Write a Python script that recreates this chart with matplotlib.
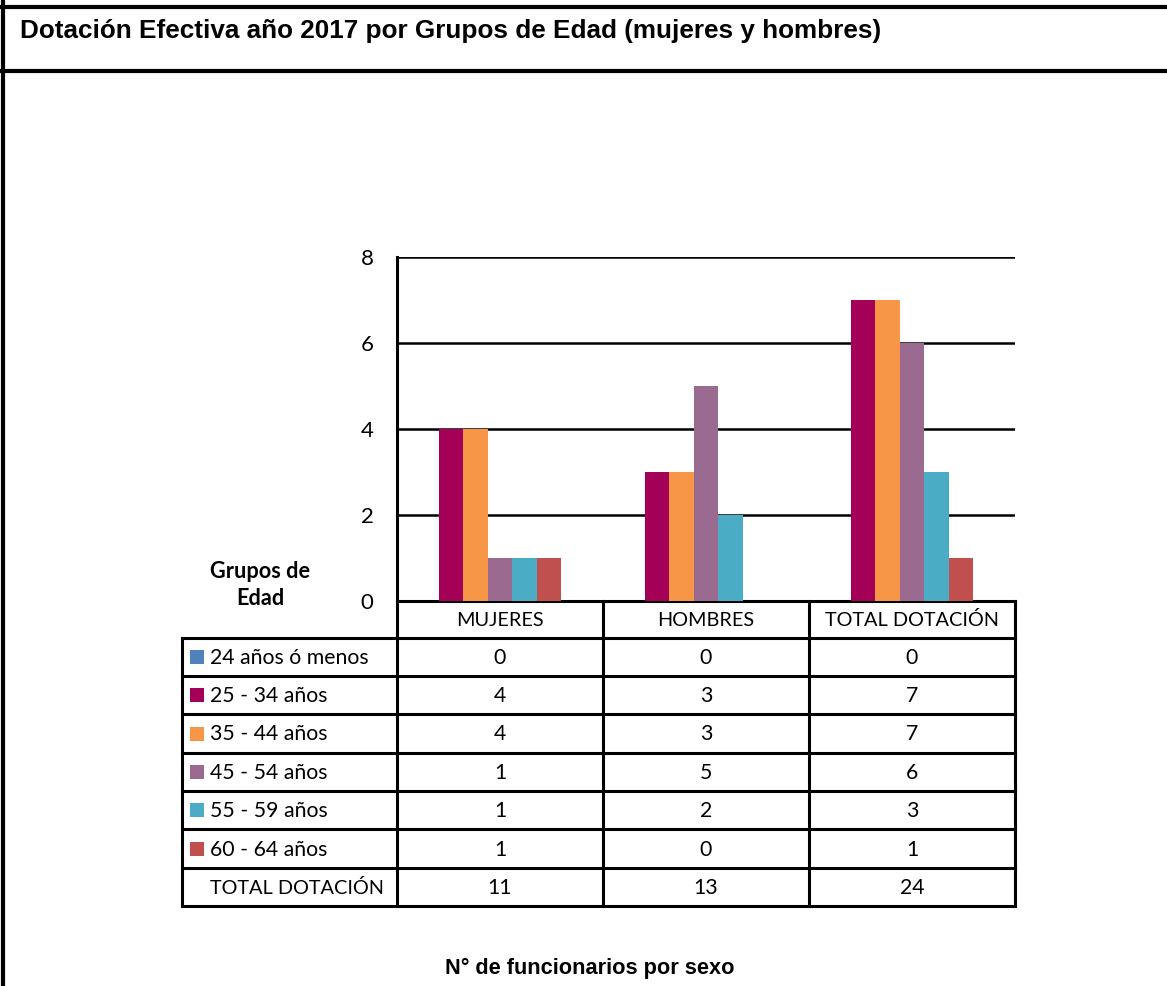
import matplotlib
matplotlib.use("Agg")
import matplotlib.pyplot as plt
from matplotlib.lines import Line2D
from matplotlib.patches import Rectangle
import numpy as np

W, H = 1167, 986
title = "Dotación Efectiva año 2017 por Grupos de Edad (mujeres y hombres)"
xlabel = "N° de funcionarios por sexo"
corner = "Grupos de\nEdad"
categories = ["MUJERES", "HOMBRES", "TOTAL DOTACIÓN"]
series = ["24 años ó menos", "25 - 34 años", "35 - 44 años", "45 - 54 años",
          "55 - 59 años", "60 - 64 años"]
v_24 = [0, 0, 0]
v_25_34 = [4, 3, 7]
v_35_44 = [4, 3, 7]
v_45_54 = [1, 5, 6]
v_55_59 = [1, 2, 3]
v_60_64 = [1, 0, 1]
totals_label = "TOTAL DOTACIÓN"
totals = [11, 13, 24]
colors = ["#4F81BD", "#A50057", "#F79646", "#9A6A90", "#4BACC6", "#C0504D"]
yticks = [0, 2, 4, 6, 8]

values = [v_24, v_25_34, v_35_44, v_45_54, v_55_59, v_60_64]

BODY = ["Lato", "DejaVu Sans"]
NARROW = ["Liberation Sans", "DejaVu Sans"]

fig = plt.figure(figsize=(W / 100, H / 100), dpi=100)

# overlay axes in pixel coords
ov = fig.add_axes([0, 0, 1, 1])
ov.set_xlim(0, W)
ov.set_ylim(H, 0)
ov.axis("off")

def px(x0, y0, x1, y1):
    return [x0 / W, 1 - y1 / H, (x1 - x0) / W, (y1 - y0) / H]

# plot area
ax_l, ax_r, ax_t, ax_b = 397, 1015, 257, 601
ax = fig.add_axes(px(ax_l, ax_t, ax_r, ax_b))
ax.set_xlim(0, len(categories))
ax.set_ylim(0, 8)
ax.set_yticks(yticks)
ax.set_yticklabels([str(t) for t in yticks], fontfamily=BODY, fontsize=16)
ax.tick_params(axis="y", length=0, pad=17)
ax.set_xticks([])
for s in ["top", "right", "bottom"]:
    ax.spines[s].set_visible(False)
ax.spines["left"].set_linewidth(2.2)
ax.spines["left"].set_zorder(5)
ax.patch.set_alpha(0)
for t in yticks[1:]:
    ax.axhline(t, color="black", lw=1.8, zorder=1)

w = 24.55 / 206.0
nslots = 7
x = np.arange(len(categories)) + 0.5
for k, (vals, c) in enumerate(zip(values, colors)):
    off = (k - (nslots - 1) / 2) * w
    ax.bar(x + off, vals, width=w, color=c, align="center", zorder=3, linewidth=0)

# borders of the frame
LW = 3.0
ov.add_line(Line2D([0, W], [7, 7], color="black", lw=LW))
ov.add_line(Line2D([0, W], [71, 71], color="black", lw=LW))
ov.add_line(Line2D([2.5, 2.5], [0, H], color="black", lw=LW))

ov.text(20, 31, title, fontfamily=NARROW, fontweight="bold", fontsize=18.8,
        ha="left", va="center")
ov.text(590, 968, xlabel, fontfamily=NARROW, fontweight="bold", fontsize=15.7,
        ha="center", va="center")
ov.text(260, 585, corner, fontfamily=BODY, fontweight="bold", fontsize=15.6,
        ha="center", va="center", linespacing=1.38)

# data table
tl = 182
cols = [397, 603, 809, 1015]
hdr_top = 601
rows_y = [638, 676, 714, 753, 791, 829, 868, 906]
TLW = 2.2
ov.add_line(Line2D([cols[0], cols[-1]], [hdr_top, hdr_top], color="black", lw=TLW))
for cx in cols:
    ov.add_line(Line2D([cx, cx], [hdr_top, rows_y[-1]], color="black", lw=TLW))
for ry in rows_y:
    ov.add_line(Line2D([tl, cols[-1]], [ry, ry], color="black", lw=TLW))
ov.add_line(Line2D([tl, tl], [rows_y[0], rows_y[-1]], color="black", lw=TLW))

FS = 15.3
FS_CAPS = 14.3
for j, cat in enumerate(categories):
    cxm = (cols[j] + cols[j + 1]) / 2
    ov.text(cxm, (hdr_top + rows_y[0]) / 2 + 1, cat, fontfamily=BODY, fontsize=FS_CAPS,
            ha="center", va="center")

for i, (name, vals, c) in enumerate(zip(series, values, colors)):
    yc = (rows_y[i] + rows_y[i + 1]) / 2
    ov.add_patch(Rectangle((190, yc - 7), 14, 14, color=c, lw=0))
    ov.text(210, yc + 1, name, fontfamily=BODY, fontsize=FS, ha="left", va="center")
    for j, v in enumerate(vals):
        cxm = (cols[j] + cols[j + 1]) / 2
        ov.text(cxm, yc + 1, str(v), fontfamily=BODY, fontsize=FS,
                ha="center", va="center")

yc = (rows_y[-2] + rows_y[-1]) / 2
ov.text(210, yc + 1, totals_label, fontfamily=BODY, fontsize=FS_CAPS, ha="left", va="center")
for j, v in enumerate(totals):
    cxm = (cols[j] + cols[j + 1]) / 2
    ov.text(cxm, yc + 1, str(v), fontfamily=BODY, fontsize=FS, ha="center", va="center")

fig.savefig("out.png", dpi=100, facecolor="white")
